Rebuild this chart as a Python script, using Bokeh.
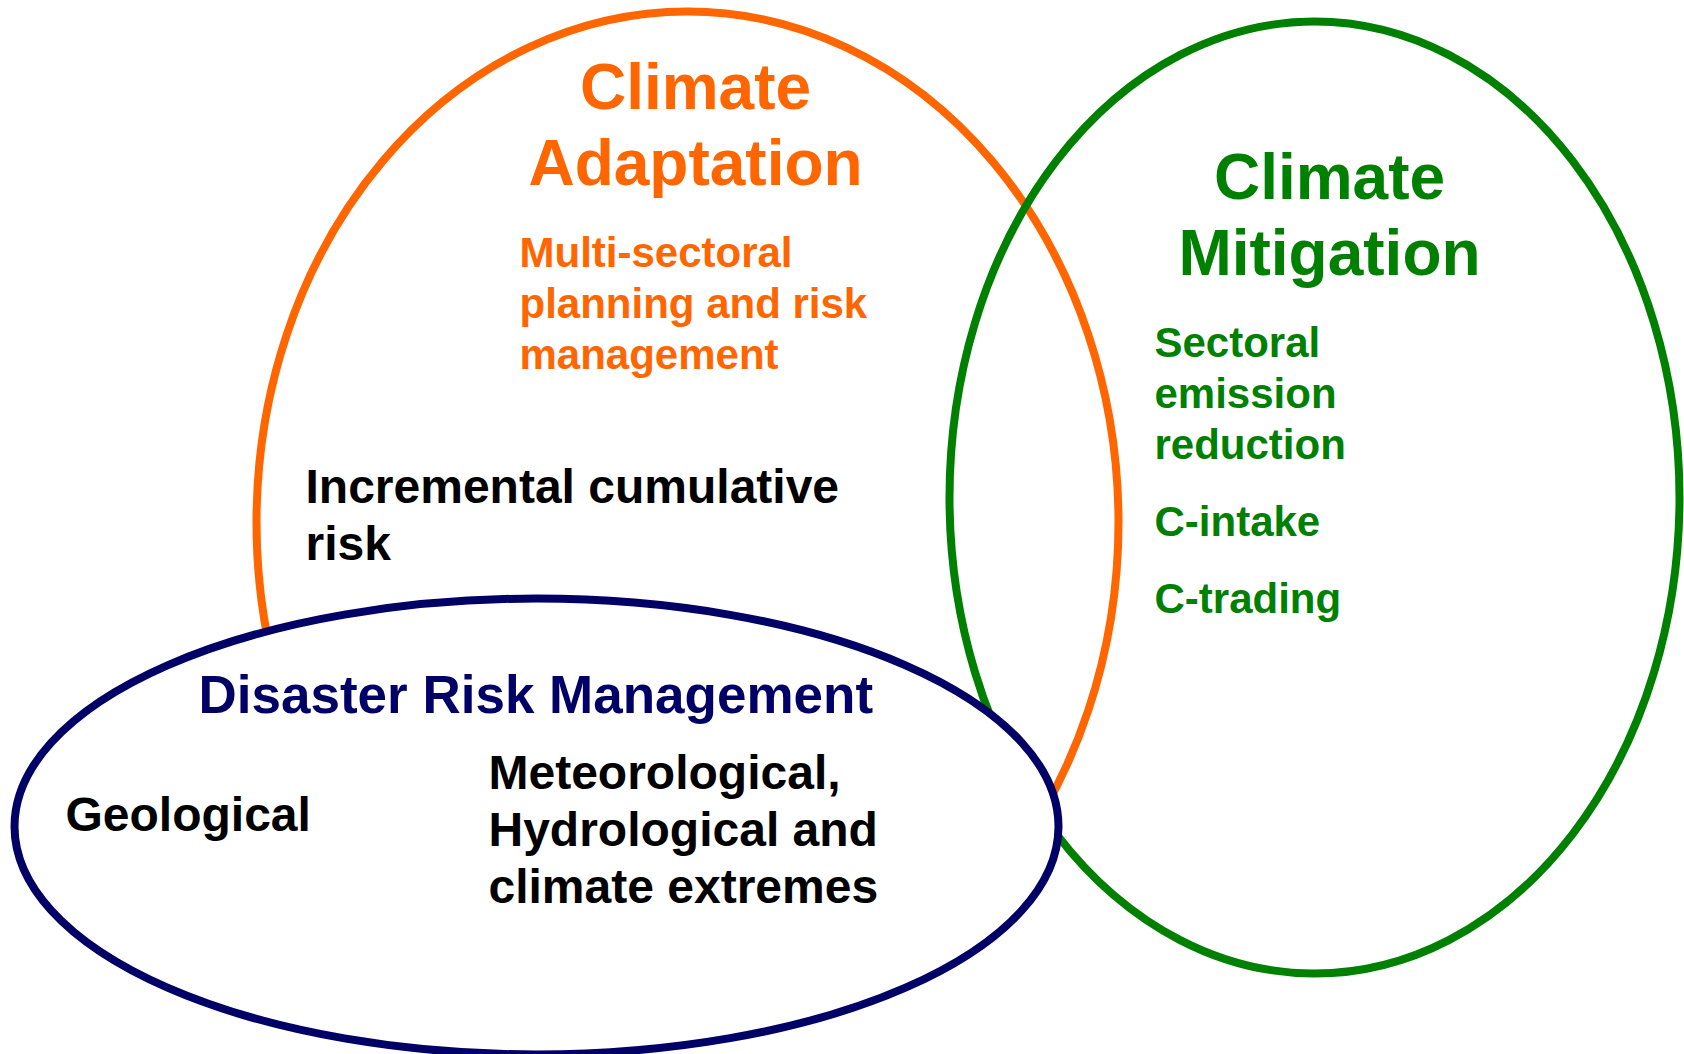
from bokeh.plotting import figure
from bokeh.models import Range1d
from bokeh.embed import file_html
from bokeh.resources import INLINE
from bokeh.core.properties import value

# ---- content ----
adapt_title = ["Climate", "Adaptation"]
adapt_items = ["Multi-sectoral", "planning and risk", "management"]
mitig_title = ["Climate", "Mitigation"]
mitig_items = ["Sectoral", "emission", "reduction", "C-intake", "C-trading"]
overlap_text = ["Incremental cumulative", "risk"]
drm_title = ["Disaster Risk Management"]
drm_left = ["Geological"]
drm_right = ["Meteorological,", "Hydrological and", "climate extremes"]

ORANGE = "#FF6600"
GREEN = "#008000"
NAVY = "#000066"
FONT = value("Liberation Sans")

W, H = 1684, 1054
p = figure(width=W, height=H, output_backend="svg", toolbar_location=None,
           x_range=Range1d(0, W), y_range=Range1d(H, 0),
           min_border=0)
p.axis.visible = False
p.grid.visible = False
p.outline_line_color = None
p.background_fill_color = "white"
p.border_fill_color = "white"

# ellipses
p.ellipse(x=[687], y=[522], width=[862], height=[1022], fill_color=None,
          line_color=ORANGE, line_width=8)
p.ellipse(x=[1314], y=[497], width=[730], height=[952], fill_color=None,
          line_color=GREEN, line_width=8)
p.ellipse(x=[536], y=[826], width=[1044], height=[456], fill_color="white",
          line_color=NAVY, line_width=8)

def txt(lines, x, y0, dy, size, color, align="left"):
    ys = [y0 + i * dy - 0.34 * size for i in range(len(lines))]
    p.text(x=[x] * len(lines), y=ys, text=lines, text_color=color,
           text_font=FONT, text_font_style="bold", text_font_size=f"{size}px",
           text_align=align, text_baseline="alphabetic")

txt(adapt_title, 695, 108, 76, 64, ORANGE, "center")
txt(adapt_items, 519, 266, 51, 42, ORANGE)
txt(mitig_title, 1329, 198, 76, 64, GREEN, "center")
txt(mitig_items[:3], 1154, 356, 51, 42, GREEN)
txt(mitig_items[3:], 1154, 535, 77, 42, GREEN)
txt(overlap_text, 305, 502, 57, 48, "black")
txt(drm_title, 198, 712, 0, 53, NAVY)
txt(drm_left, 65, 830, 0, 48, "black")
txt(drm_right, 488, 788, 57, 48, "black")

open("out.html", "w").write(file_html(p, INLINE))
